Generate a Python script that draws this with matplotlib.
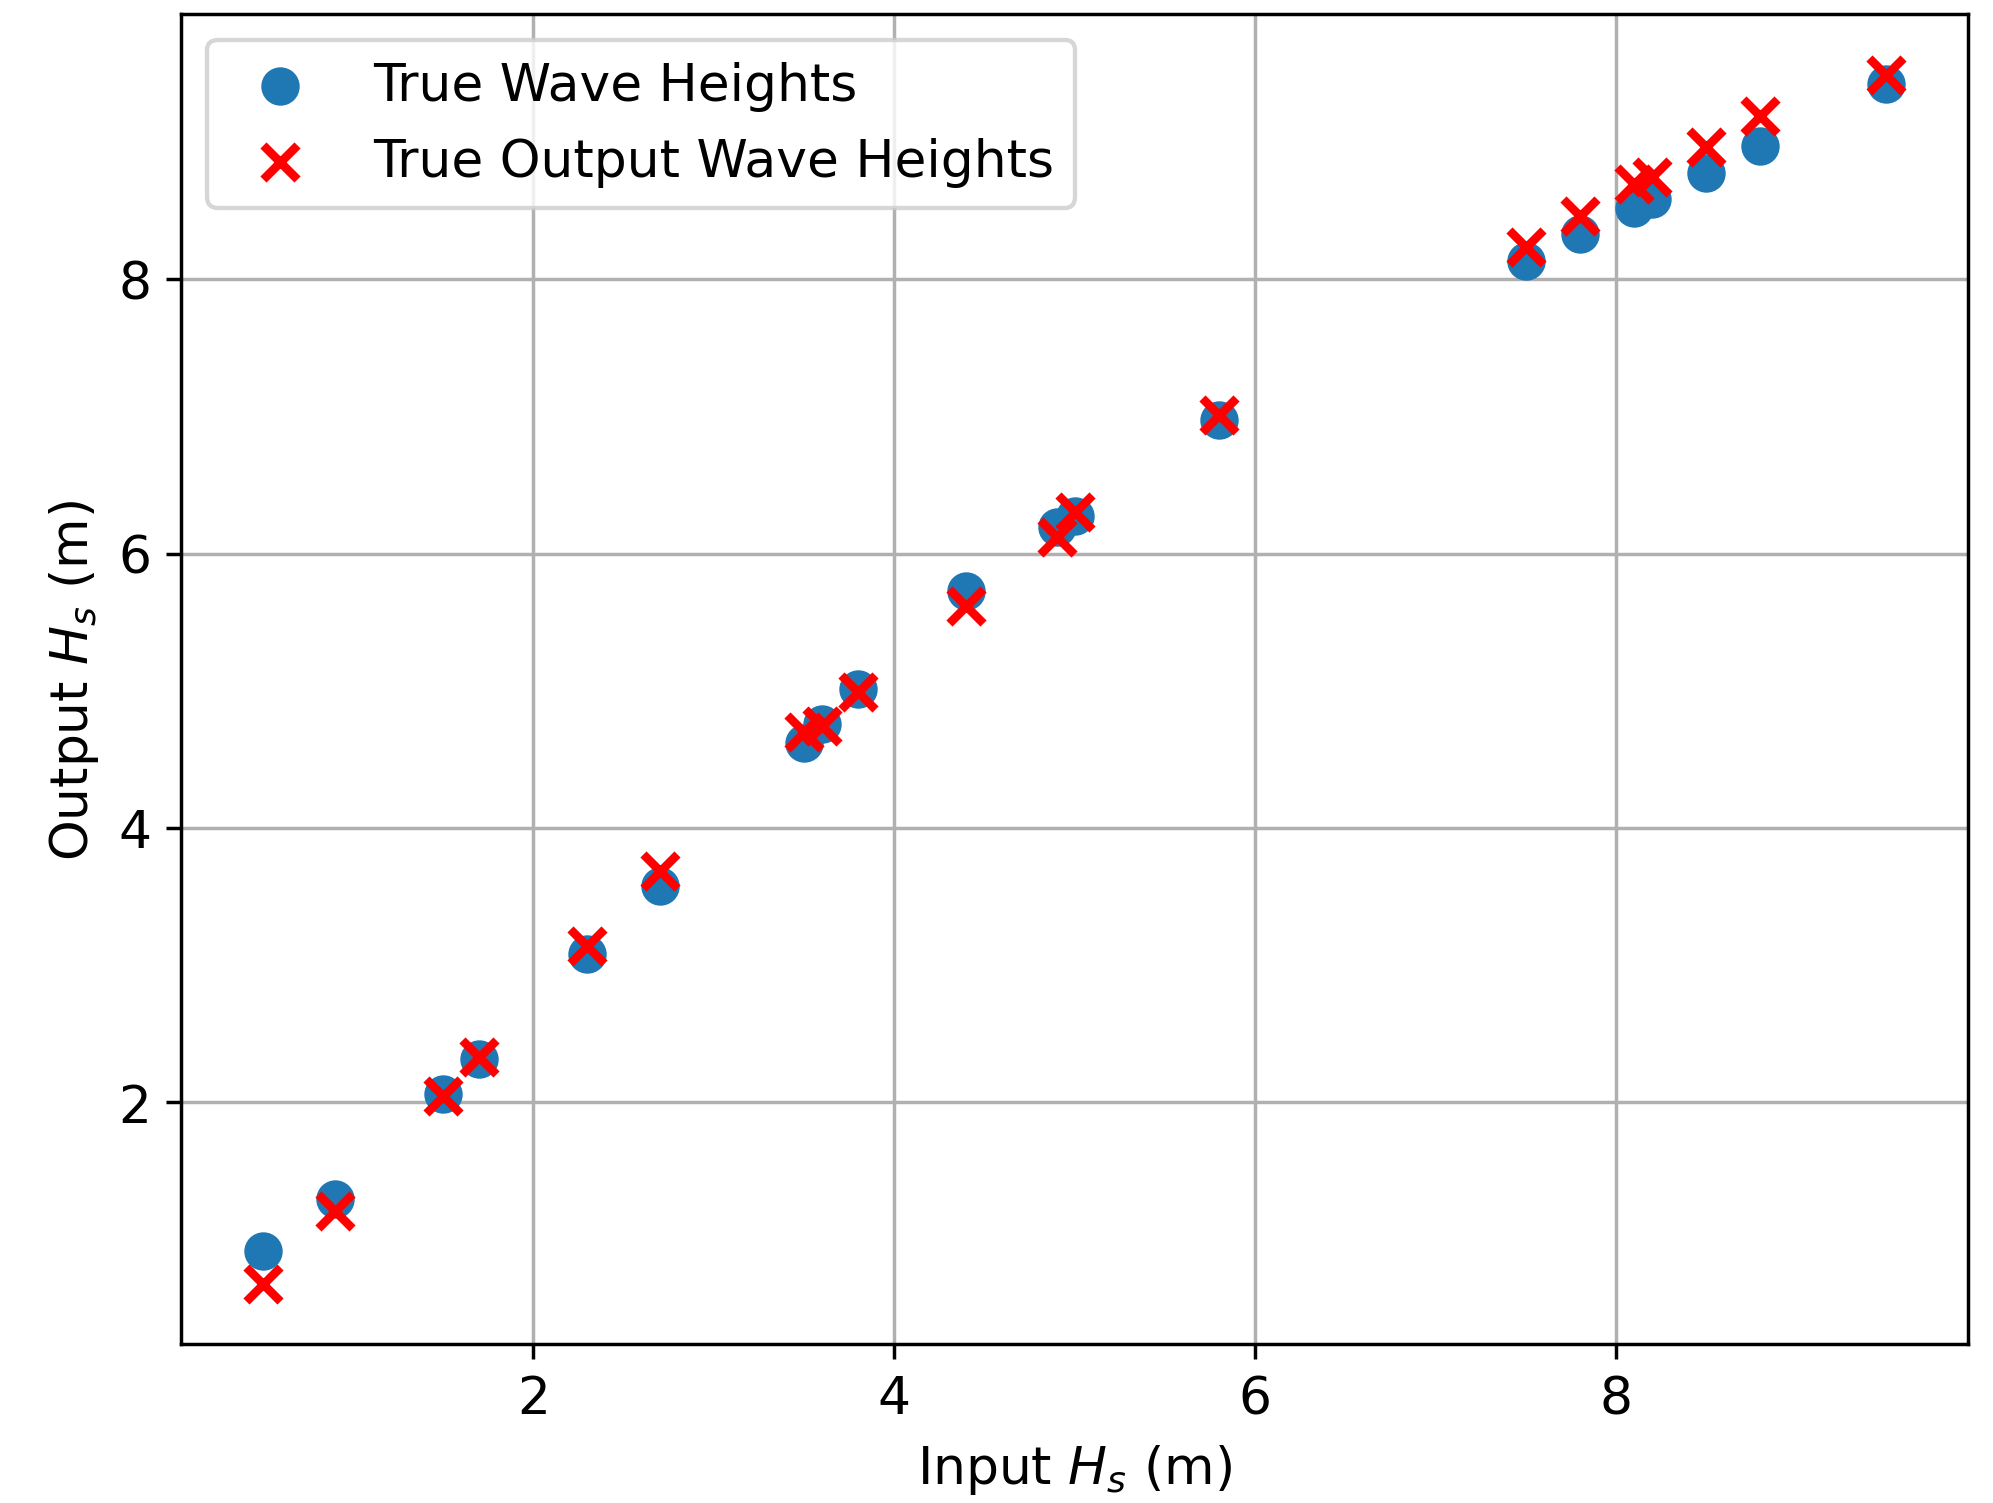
import numpy as np
import matplotlib
matplotlib.use("Agg")
import matplotlib.pyplot as plt

# -------------------------
# Data
# -------------------------
input_hs = [0.5, 0.9, 1.5, 1.7, 2.3, 2.7, 3.5, 3.6, 3.8, 4.4, 4.9, 5.0, 5.8,
            7.5, 7.8, 8.1, 8.2, 8.5, 8.8, 9.5]
true_hs = [0.92, 1.30, 2.06, 2.32, 3.08, 3.58, 4.62, 4.76, 5.01, 5.73, 6.19, 6.27, 6.97,
           8.13, 8.33, 8.52, 8.58, 8.77, 8.97, 9.42]
output_hs = [0.68, 1.21, 2.05, 2.33, 3.14, 3.69, 4.70, 4.74, 4.99, 5.62, 6.12, 6.30, 7.01,
             8.23, 8.46, 8.69, 8.74, 8.96, 9.19, 9.49]

# -------------------------
# Plot
# -------------------------
plt.rcParams["font.size"] = 12

fig = plt.figure(figsize=(6.4, 4.828), dpi=311.5)
ax = fig.add_axes([0.091, 0.1057, 0.896, 0.8843])

ax.scatter(input_hs, true_hs, s=62, color="#1f77b4", label="True Wave Heights", zorder=3)
ax.scatter(input_hs, output_hs, s=62, marker="x", color="red", linewidths=2,
           label="True Output Wave Heights", zorder=4)

ax.set_xlabel("Input $H_s$ (m)")
ax.set_ylabel("Output $H_s$ (m)")
ax.grid(True)
ax.set_axisbelow(True)
ax.legend(loc="upper left")

fig.savefig("out.png", dpi=311.5)
